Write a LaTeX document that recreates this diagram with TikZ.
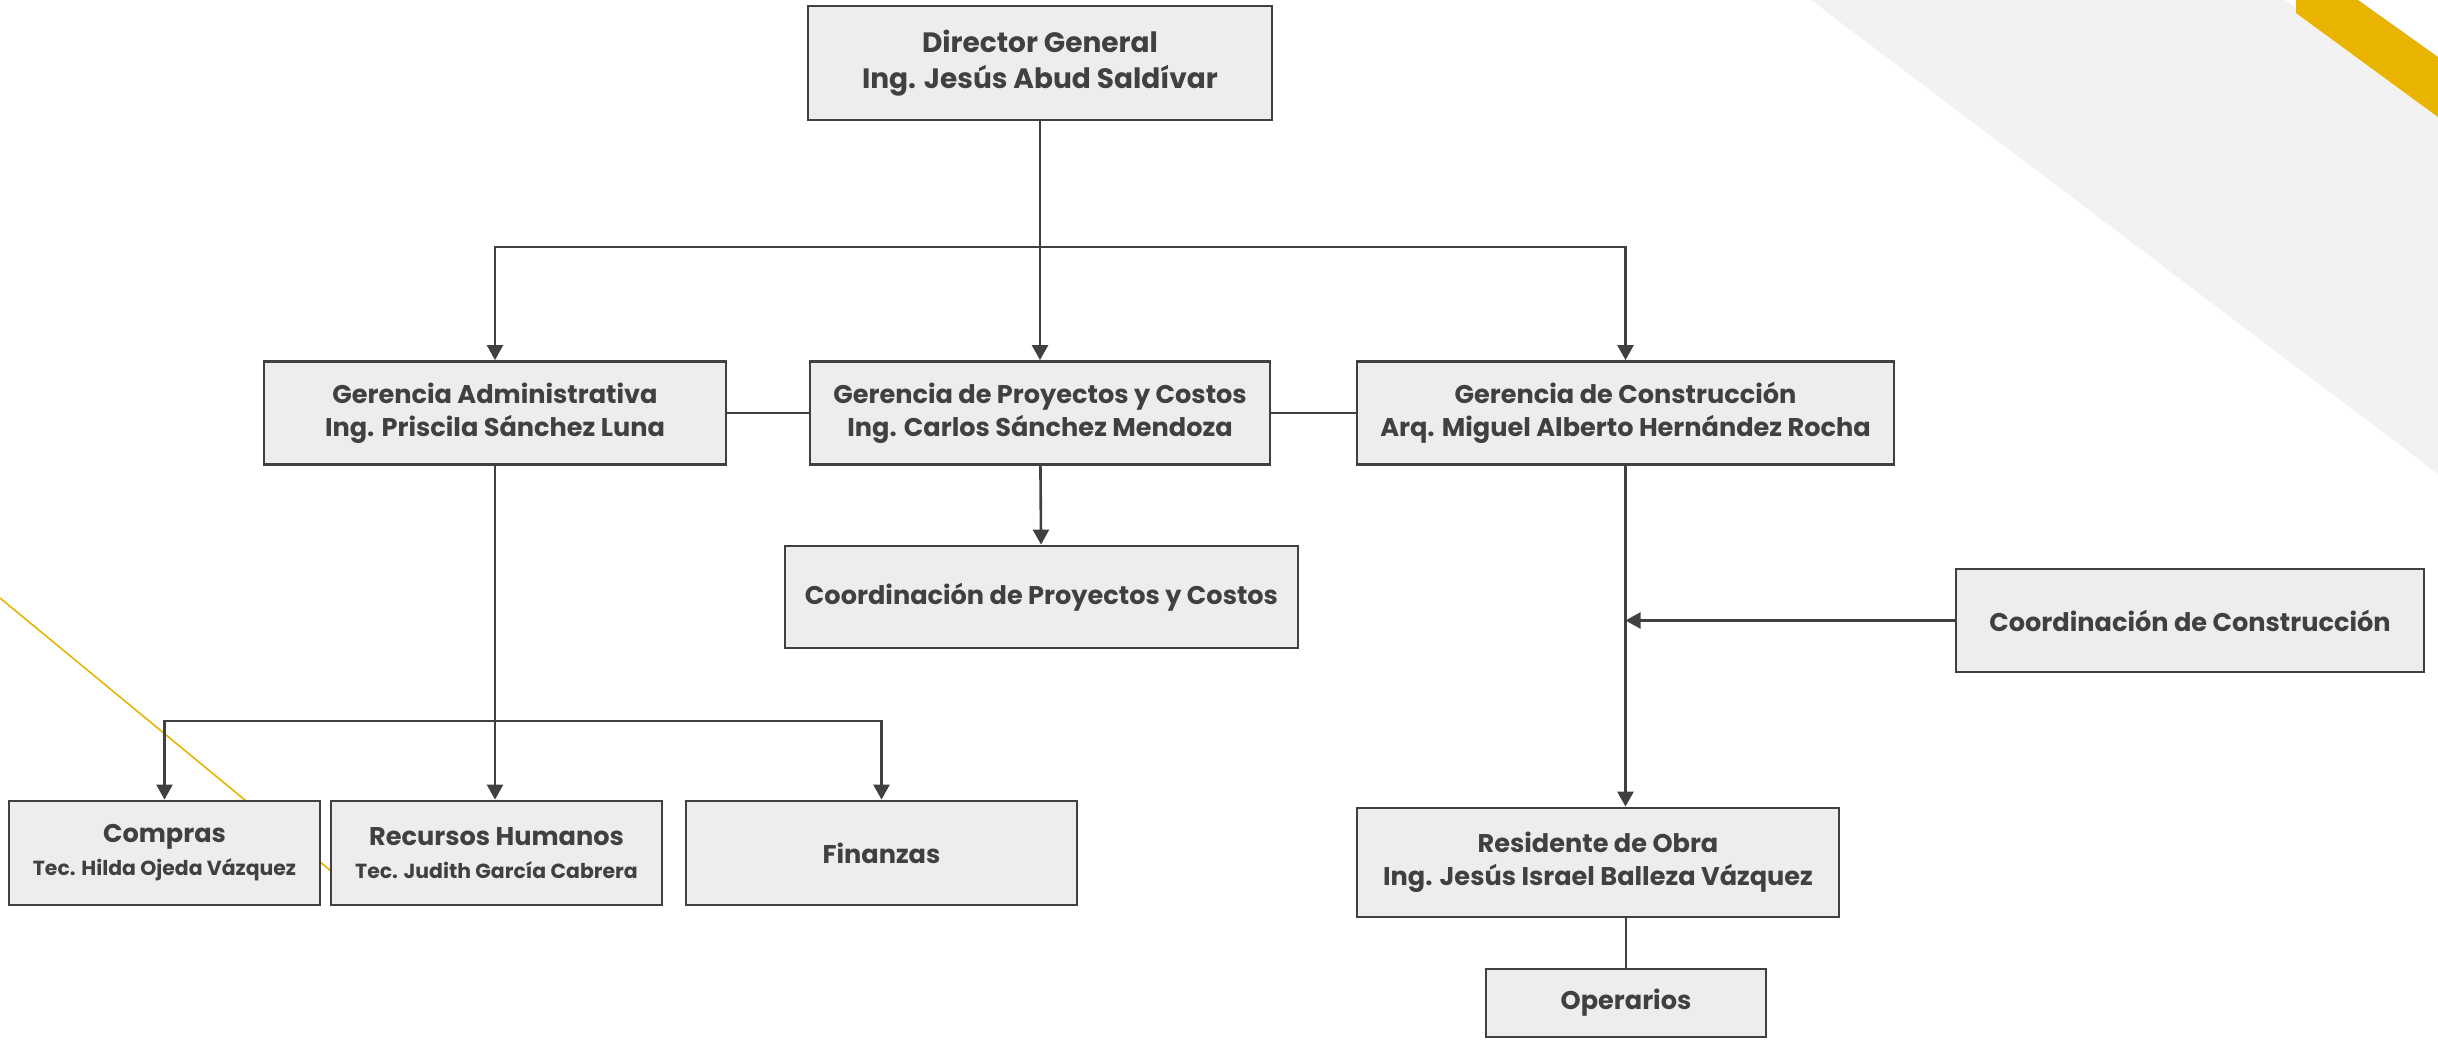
\documentclass[tikz,border=0pt]{standalone}
\usepackage{fontspec}
\setmainfont{Poppins}
\usepackage{xcolor}
\usepackage{tikz}
\usetikzlibrary{arrows.meta}

\definecolor{boxfill}{HTML}{EDEDED}
\definecolor{boxline}{HTML}{404040}
\definecolor{bggray}{HTML}{F2F2F2}
\definecolor{gold}{HTML}{E8B400}

\newcommand{\subname}[1]{{\fontsize{10.2}{14}\selectfont #1}}

\begin{document}
\begin{tikzpicture}[x=0.5pt,y=-0.5pt,
    box/.style={rectangle,draw=boxline,line width=1.4pt,fill=boxfill,text=boxline,
        font=\fontsize{12.8}{16.4}\selectfont\bfseries,align=center,inner sep=0pt},
    title/.style={font=\fontsize{14}{18}\selectfont\bfseries},
    link/.style={draw=boxline,line width=1.3pt},
    arr/.style={link,-{Triangle[length=7.5pt,width=8pt]}}]
    %
    \useasboundingbox (0,0) rectangle (2438,1042);
    \fill[bggray] (1811,0) -- (2438,0) -- (2438,474) -- cycle;
    \fill[white] (2358,0) -- (2438,0) -- (2438,57) -- cycle;
    \fill[white] (2285,0) -- (2296,0) -- (2296,8) -- cycle;
    \fill[gold] (2296,0) -- (2358,0) -- (2438,57) -- (2438,117) -- (2296,13) -- cycle;
    \draw[gold,line width=0.8pt] (0,598) -- (331,871);
    %
    \node[box,title,minimum width=232pt,minimum height=57pt] (dg) at (1040,63) {Director General\\Ing. Jesús Abud Saldívar};

    \node[box,minimum width=231pt,minimum height=51.5pt] (ga) at (495,413) {Gerencia Administrativa\\Ing. Priscila Sánchez Luna};
    \node[box,minimum width=230pt,minimum height=51.5pt] (gp) at (1040,413) {Gerencia de Proyectos y Costos\\Ing. Carlos Sánchez Mendoza};
    \node[box,minimum width=268.5pt,minimum height=51.5pt] (gc) at (1625.5,413) {Gerencia de Construcción\\Arq. Miguel Alberto Hernández Rocha};

    \node[box,minimum width=256.5pt,minimum height=51pt] (cp) at (1041.5,597) {Coordinación de Proyectos y Costos};
    \node[box,minimum width=234pt,minimum height=51.5pt] (cc) at (2190,620.5) {Coordinación de Construcción};

    \node[box,minimum width=155.5pt,minimum height=52pt] (cmp) at (164.5,853) {Compras\\\subname{Tec. Hilda Ojeda Vázquez}};
    \node[box,minimum width=165.5pt,minimum height=52pt] (rh) at (496.5,853) {Recursos Humanos\\\subname{Tec. Judith García Cabrera}};
    \node[box,minimum width=195.5pt,minimum height=52pt] (fin) at (881.5,853) {Finanzas};

    \node[box,minimum width=241pt,minimum height=54.5pt] (res) at (1598,862.5) {Residente de Obra\\Ing. Jesús Israel Balleza Vázquez};
    \node[box,minimum width=140pt,minimum height=34pt] (op) at (1626,1003) {Operarios};
    %
    \coordinate (topbar) at (1040,247);
    \coordinate (adminbar) at (495,721);
    \coordinate (cjoin) at (1625.5,620.5);
    %
    \draw[arr] (dg) -- (gp);
    \draw[arr] (topbar) -| (ga.north);
    \draw[arr] (topbar) -| (gc.north);

    \draw[link] (ga) -- (gp);
    \draw[link] (gp) -- (gc);
    \draw[arr] (gp) -- (cp);

    \draw[arr] (ga.south) -- (ga.south |- rh.north);
    \draw[arr] (adminbar) -| (cmp.north);
    \draw[arr] (adminbar) -| (fin.north);

    \draw[arr] (gc.south) -- (gc.south |- res.north);
    \draw[arr] (cc.west) -- (cjoin);
    \draw[link] (op.north |- res.south) -- (op.north);
    %
\end{tikzpicture}
\end{document}
